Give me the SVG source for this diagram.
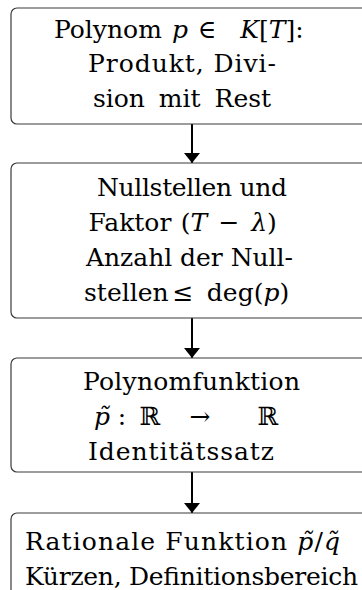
<svg xmlns="http://www.w3.org/2000/svg" width="362" height="590" viewBox="0 0 362 590">
  <defs>
    <marker id="arrow" markerWidth="10" markerHeight="16" refX="10" refY="5" orient="auto" markerUnits="userSpaceOnUse" viewBox="0 0 10 10" preserveAspectRatio="none">
      <path d="M0,0 L10,5 L0,10 Z" fill="#000"/>
    </marker>
    <style>
      .box { fill: #fff; stroke: #3a3a3a; stroke-width: 1.2; }
      .t { font-family: 'DejaVu Serif', serif; font-size: 25px; fill: #000; }
      .c { text-anchor: middle; }
      .m { font-style: italic; }
      .edge { stroke: #000; stroke-width: 2; fill: none; marker-end: url(#arrow); }
    </style>
  </defs>

  <!-- connectors -->
  <g id="edges">
    <line class="edge" x1="192" y1="124" x2="192" y2="163"/>
    <line class="edge" x1="192" y1="318" x2="192" y2="358"/>
    <line class="edge" x1="192" y1="472" x2="192" y2="513"/>
  </g>

  <g id="node-polynom">
    <rect class="box" x="11" y="8" width="362" height="116" rx="6"/>
    <text class="t" x="54" y="38">Polynom</text>
    <text class="t c m" x="180" y="38">p</text>
    <text class="t c" x="207" y="38">∈</text>
    <text class="t c" x="272" y="38"><tspan class="m">K</tspan>[<tspan class="m">T</tspan>]:</text>
    <text class="t" x="88" y="72" textLength="188" lengthAdjust="spacing">Produkt, Divi-</text>
    <text class="t c" x="182" y="107" word-spacing="6">sion mit Rest</text>
  </g>

  <g id="node-nullstellen">
    <rect class="box" x="11" y="163" width="362" height="155" rx="6"/>
    <text class="t" x="97" y="196" textLength="190" lengthAdjust="spacing">Nullstellen und</text>
    <text class="t c" x="130" y="231">Faktor</text>
    <text class="t c" x="194" y="231">(<tspan class="m">T</tspan></text>
    <text class="t c" x="229" y="231">−</text>
    <text class="t c" x="264" y="231"><tspan class="m">λ</tspan>)</text>
    <text class="t" x="86" y="266" textLength="207" lengthAdjust="spacing">Anzahl der Null-</text>
    <text class="t" x="84" y="301">stellen</text>
    <text class="t c" x="183" y="301">≤</text>
    <text class="t c" x="248" y="301">deg(<tspan class="m">p</tspan>)</text>
  </g>

  <g id="node-polynomfunktion">
    <rect class="box" x="11" y="358" width="362" height="114" rx="6"/>
    <text class="t" x="83" y="390" textLength="217" lengthAdjust="spacing">Polynomfunktion</text>
    <text class="t c m" x="102" y="425">p̃</text>
    <text class="t c" x="122" y="425">:</text>
    <text class="t c" x="150" y="425">ℝ</text>
    <text class="t c" x="200" y="425">→</text>
    <text class="t c" x="268" y="425">ℝ</text>
    <text class="t" x="88" y="460" textLength="186" lengthAdjust="spacing">Identitätssatz</text>
  </g>

  <g id="node-rational">
    <rect class="box" x="11" y="513" width="362" height="100" rx="6"/>
    <text class="t" x="25" y="550" textLength="315" lengthAdjust="spacing">Rationale Funktion <tspan class="m">p̃</tspan>/<tspan class="m">q̃</tspan></text>
    <text class="t" x="25" y="585" textLength="333" lengthAdjust="spacing">Kürzen, Definitionsbereich</text>
  </g>
</svg>
